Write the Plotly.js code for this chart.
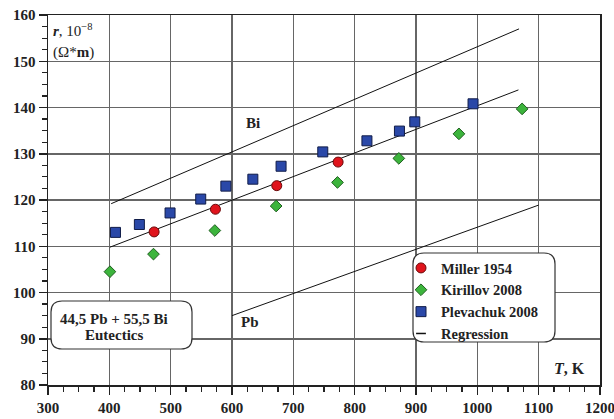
<!DOCTYPE html>
<html>
<head>
<meta charset="utf-8">
<script src="https://cdn.plot.ly/plotly-3.0.1.min.js"></script>
<style>html,body{margin:0;padding:0;background:#fff;}#chart{width:614px;height:419px;}</style>
</head>
<body>
<div id="chart"></div>
<script>
// Data
const millerT = [473, 573, 673, 773];
const millerR = [113.1, 118.0, 123.1, 128.2];
const kirillovT = [401, 472, 572, 672, 772, 872, 970, 1073];
const kirillovR = [104.5, 108.3, 113.4, 118.7, 123.8, 129.0, 134.3, 139.7];
const plevachukT = [410, 449, 499, 549, 590, 634, 680, 748, 820, 873, 898, 993];
const plevachukR = [113.0, 114.7, 117.2, 120.2, 123.0, 124.5, 127.3, 130.4, 132.8, 134.9, 136.9, 140.8];
const regressionT = [401, 1067];
const regressionR = [109.8, 143.8];
const biT = [403, 1068];
const biR = [119.2, 157.0];
const pbT = [600, 1100];
const pbR = [95.0, 118.9];
const xTicks = [300, 400, 500, 600, 700, 800, 900, 1000, 1100, 1200];
const yTicks = [80, 90, 100, 110, 120, 130, 140, 150, 160];

const serif = 'Liberation Serif, Times New Roman, serif';
const M = {l: 48, r: 14, t: 15, b: 34};
const W = 614, H = 419;
const pw = W - M.l - M.r, ph = H - M.t - M.b;
const px = v => (v - M.l) / pw;
const py = v => (H - M.b - v) / ph;

function roundRect(x0, y0, x1, y1, r) {
  const rx = r / pw, ry = r / ph;
  const a = px(x0), b = px(x1), top = py(y0), bot = py(y1);
  return `M${a + rx},${top} L${b - rx},${top} Q${b},${top} ${b},${top - ry} ` +
         `L${b},${bot + ry} Q${b},${bot} ${b - rx},${bot} L${a + rx},${bot} ` +
         `Q${a},${bot} ${a},${bot + ry} L${a},${top - ry} Q${a},${top} ${a + rx},${top} Z`;
}

const lineStyle = {color: '#111', width: 1};
const traces = [
  {x: biT, y: biR, mode: 'lines', line: lineStyle, showlegend: false, hoverinfo: 'skip'},
  {x: regressionT, y: regressionR, mode: 'lines', line: lineStyle, showlegend: false, hoverinfo: 'skip'},
  {x: pbT, y: pbR, mode: 'lines', line: lineStyle, showlegend: false, hoverinfo: 'skip'},
  {x: millerT, y: millerR, mode: 'markers', name: 'Miller 1954',
   marker: {symbol: 'circle', size: 10, color: '#e0141c', line: {color: '#6a0a0a', width: 1}}},
  {x: kirillovT, y: kirillovR, mode: 'markers', name: 'Kirillov 2008',
   marker: {symbol: 'diamond', size: 9, color: '#3cb43c', line: {color: '#1f5e1f', width: 1}}},
  {x: plevachukT, y: plevachukR, mode: 'markers', name: 'Plevachuk 2008',
   marker: {symbol: 'square', size: 10, color: '#2a48a8', line: {color: '#101c48', width: 1}}},
  {x: [null], y: [null], mode: 'markers', name: 'Regression',
   marker: {symbol: 'line-ew', size: 7, line: {color: '#111', width: 1.5}}}
];

const axisCommon = {
  showline: true, linecolor: '#222', linewidth: 1.5, mirror: true,
  showgrid: true, gridcolor: '#666', gridwidth: 1.5,
  zeroline: false, ticks: 'outside', ticklen: 8, tickwidth: 1.5, tickcolor: '#222',
  ticklabeloverflow: 'allow',
  tickfont: {family: serif, size: 15, color: '#222', weight: 'bold'}
};

const layout = {
  width: W, height: H, margin: M,
  paper_bgcolor: '#fff', plot_bgcolor: '#fff',
  showlegend: true,
  xaxis: Object.assign({}, axisCommon, {
    range: [300, 1200], tickvals: xTicks, ticktext: xTicks.map(String),
    minor: {dtick: 25, tick0: 300, ticks: 'outside', ticklen: 5, tickwidth: 1.2, tickcolor: '#222', showgrid: false}
  }),
  yaxis: Object.assign({}, axisCommon, {
    range: [80, 160], tickvals: yTicks, ticktext: yTicks.map(String),
    minor: {dtick: 2.5, tick0: 80, ticks: 'outside', ticklen: 5, tickwidth: 1.2, tickcolor: '#222', showgrid: false}
  }),
  legend: {
    x: px(401), y: py(252), xanchor: 'left', yanchor: 'top',
    bgcolor: 'rgba(0,0,0,0)', borderwidth: 0,
    font: {family: serif, size: 14.5, color: '#222', weight: 'bold'},
    itemwidth: 30, tracegroupgap: 0
  },
  shapes: [
    {type: 'path', xref: 'paper', yref: 'paper', path: roundRect(413, 253, 555, 342, 11),
     fillcolor: '#fff', line: {color: '#333', width: 1.2}, layer: 'above'},
    {type: 'path', xref: 'paper', yref: 'paper', path: roundRect(51, 301, 192, 349, 11),
     fillcolor: '#fff', line: {color: '#333', width: 1.2}, layer: 'above'}
  ],
  annotations: [
    {xref: 'paper', yref: 'paper', x: px(114), y: py(319), xanchor: 'center', yanchor: 'middle',
     text: '<b>44,5 Pb + 55,5 Bi</b>', showarrow: false,
     font: {family: serif, size: 15, color: '#222'}},
    {xref: 'paper', yref: 'paper', x: px(114), y: py(335), xanchor: 'center', yanchor: 'middle',
     text: '<b>Eutectics</b>', showarrow: false,
     font: {family: serif, size: 15, color: '#222'}},
    {xref: 'paper', yref: 'paper', x: px(51), y: py(30), xanchor: 'left', yanchor: 'middle',
     text: '<b><i>r</i></b>, 10<sup>−8</sup>', showarrow: false, align: 'left',
     font: {family: serif, size: 15, color: '#222'}},
    {xref: 'paper', yref: 'paper', x: px(51), y: py(53), xanchor: 'left', yanchor: 'middle',
     text: '(Ω*<b>m</b>)', showarrow: false, align: 'left',
     font: {family: serif, size: 15, color: '#222'}},
    {xref: 'paper', yref: 'paper', x: px(587), y: py(368), xanchor: 'right', yanchor: 'middle',
     text: '<b><i>T</i>, K</b>', showarrow: false, font: {family: serif, size: 16, color: '#222'}},
    {xref: 'x', yref: 'y', x: 635, y: 136.6, text: '<b>Bi</b>', showarrow: false,
     font: {family: serif, size: 15, color: '#222'}},
    {xref: 'x', yref: 'y', x: 630, y: 93.6, text: '<b>Pb</b>', showarrow: false,
     font: {family: serif, size: 15, color: '#222'}}
  ]
};

Plotly.newPlot('chart', traces, layout, {displayModeBar: false, staticPlot: true});
</script>
</body>
</html>
